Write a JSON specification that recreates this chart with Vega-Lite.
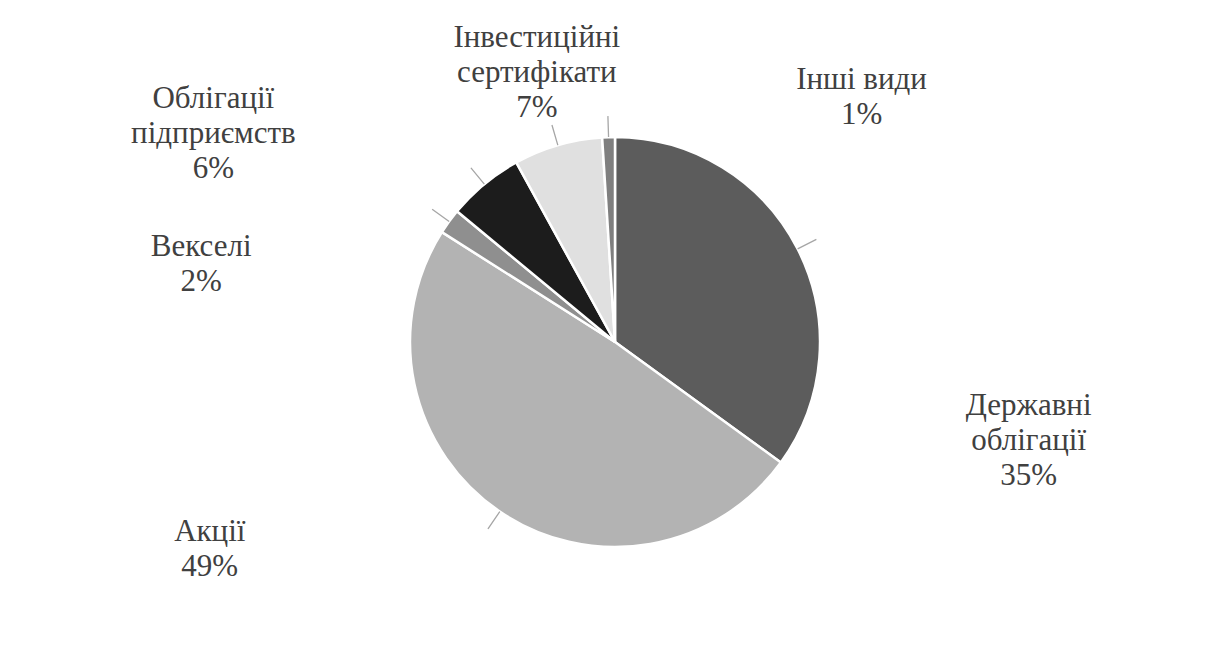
{
  "$schema": "https://vega.github.io/schema/vega-lite/v6.json",
  "width": 1190,
  "height": 612,
  "autosize": "none",
  "padding": {"left": 20, "top": 36, "right": 0, "bottom": 0},
  "background": "#ffffff",
  "config": {"view": {"stroke": null}},
  "data": {
    "values": [
      {"n": 1, "category": "Державні облігації", "name": "Державні\nоблігації", "share": 0.35},
      {"n": 2, "category": "Акції", "name": "Акції", "share": 0.49},
      {"n": 3, "category": "Векселі", "name": "Векселі", "share": 0.02},
      {"n": 4, "category": "Облігації підприємств", "name": "Облігації\nпідприємств", "share": 0.06},
      {"n": 5, "category": "Інвестиційні сертифікати", "name": "Інвестиційні\nсертифікати", "share": 0.07},
      {"n": 6, "category": "Інші види", "name": "Інші види", "share": 0.01}
    ]
  },
  "transform": [
    {"calculate": "datum.name + '\\n' + format(datum.share, '.0%')", "as": "label"}
  ],
  "encoding": {
    "theta": {"field": "share", "type": "quantitative", "stack": true},
    "order": {"field": "n", "type": "ordinal"}
  },
  "layer": [
    {
      "mark": {"type": "arc", "outerRadius": 205, "stroke": "#ffffff", "strokeWidth": 2.5},
      "encoding": {
        "color": {
          "field": "category",
          "type": "nominal",
          "scale": {
            "domain": ["Державні облігації", "Акції", "Векселі", "Облігації підприємств", "Інвестиційні сертифікати", "Інші види"],
            "range": ["#5c5c5c", "#b3b3b3", "#8f8f8f", "#1c1c1c", "#e0e0e0", "#7f7f7f"]
          },
          "legend": null
        }
      }
    },
    {
      "mark": {"type": "arc", "innerRadius": 205, "outerRadius": 226, "padAngle": 3.14159, "filled": false, "stroke": "#a6a6a6", "strokeWidth": 1.3}
    },
    {
      "mark": {
        "type": "text",
        "radius": 205,
        "font": "Liberation Serif",
        "fontSize": 31,
        "lineHeight": 35,
        "lineBreak": "\n",
        "align": "center",
        "baseline": "alphabetic",
        "color": "#404040",
        "dx": {"expr": "datum.n == 1 ? 231 : datum.n == 2 ? -290 : datum.n == 3 ? -248 : datum.n == 4 ? -271 : datum.n == 5 ? -21 : 253"},
        "dy": {"expr": "datum.n == 1 ? 166 : datum.n == 2 ? 29 : datum.n == 3 ? 34 : datum.n == 4 ? -76 : datum.n == 5 ? -98 : -48"}
      },
      "encoding": {"text": {"field": "label"}}
    }
  ]
}
